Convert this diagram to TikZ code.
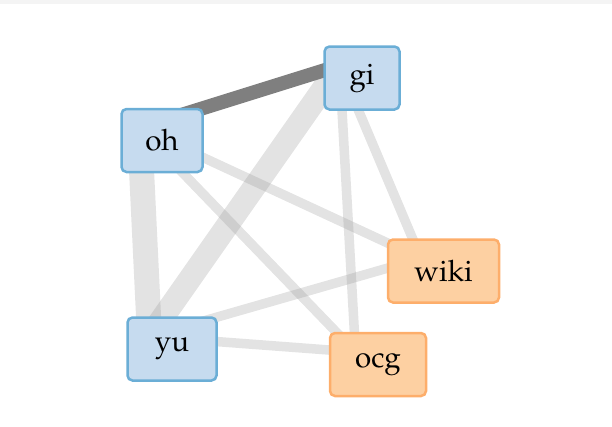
\documentclass[tikz,border=0pt]{standalone}
\usepackage[T1]{fontenc}
\usepackage{mathpazo}
\usetikzlibrary{positioning}
\definecolor{bluefill}{HTML}{C6DBEF}
\definecolor{blueline}{HTML}{6BAED6}
\definecolor{orangefill}{HTML}{FDD0A2}
\definecolor{orangeline}{HTML}{FDAE6B}
\definecolor{linkgray}{HTML}{999999}
\definecolor{strong}{HTML}{7F7F7F}
\definecolor{topstrip}{HTML}{F4F4F4}

\begin{document}
\begin{tikzpicture}[x=1pt,y=-1pt,node distance=1pt,
		box/.style={draw,rounded corners=5pt,line width=2.5pt,minimum height=63pt,
			font=\fontsize{29.5}{31}\selectfont},
		blue box/.style={box,fill=bluefill,draw=blueline},
		orange box/.style={box,fill=orangefill,draw=orangeline},
		link/.style={draw=linkgray,draw opacity=0.28,line width=9.5pt}]
		\useasboundingbox (0,0) rectangle (612,426);
		\fill[topstrip] (0,0) rectangle (612,3.5);
		\coordinate (c_oh) at (139.5,128);
		\coordinate (c_gi) at (339.5,65.5);
		\coordinate (c_yu) at (149.5,336.5);
		\coordinate (c_ocg) at (355.5,352);
		\coordinate (c_wiki) at (421,258.5);
		\path
		(c_oh) edge[link,line width=25pt] (c_yu)
		(c_gi) edge[link,line width=23pt] (c_yu)
		(c_oh) edge[link] (c_wiki)
		(c_oh) edge[link] (c_ocg)
		(c_gi) edge[link] (c_wiki)
		(c_gi) edge[link] (c_ocg)
		(c_yu) edge[link] (c_wiki)
		(c_yu) edge[link] (c_ocg)
		(c_oh) edge[draw=strong,line width=14pt] (c_gi);
		\node[blue box,minimum width=81pt] (oh) [below right=12.5pt and 22.5pt of c_oh,anchor=center] {oh};
		\node[blue box,minimum width=75pt] (gi) [below right=12.5pt and 22.5pt of c_gi,anchor=center] {gi};
		\node[blue box,minimum width=89pt] (yu) [below right=12.5pt and 22.5pt of c_yu,anchor=center] {yu};
		\node[orange box,minimum width=96pt] (ocg) [below right=12.5pt and 22.5pt of c_ocg,anchor=center] {ocg};
		\node[orange box,minimum width=111pt] (wiki) [below right=12.5pt and 22.5pt of c_wiki,anchor=center] {wiki};
	\end{tikzpicture}
\end{document}
